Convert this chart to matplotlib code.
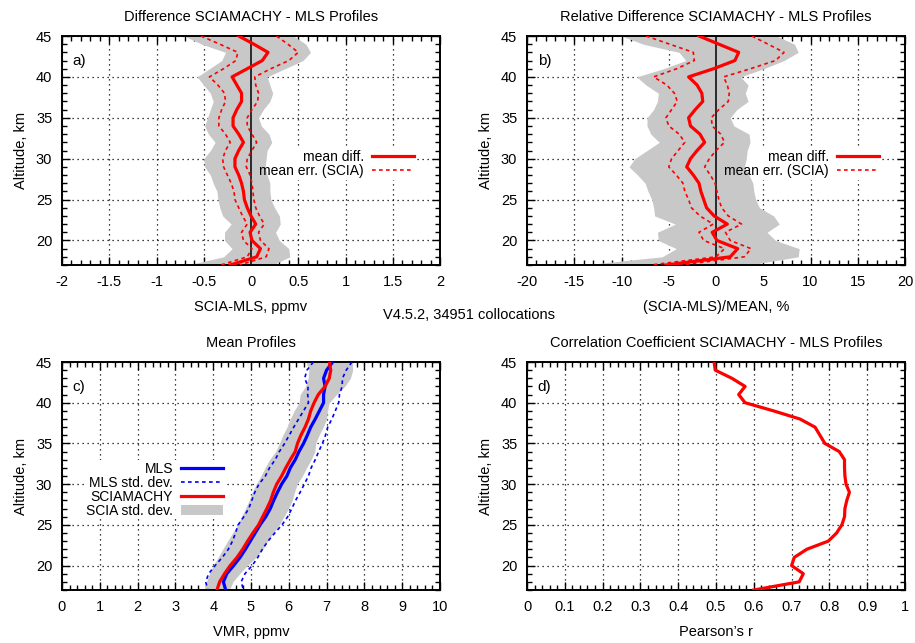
"""
SCIAMACHY vs MLS profile comparison: four-panel summary figure.

  a) absolute difference, b) relative difference,
  c) mean profiles, d) correlation coefficient
"""

import matplotlib

matplotlib.use("Agg")
import matplotlib.pyplot as plt
from matplotlib.patches import Rectangle
from matplotlib.ticker import FormatStrFormatter, MultipleLocator
import numpy as np

plt.rcParams["font.family"] = ["Liberation Sans", "DejaVu Sans"]
plt.rcParams["axes.unicode_minus"] = False

# Altitude grid, km (top to bottom)
ALTITUDE = [45, 44, 43, 42, 41, 40, 39, 38, 37, 36, 35, 34, 33, 32, 31,
            30, 29, 28, 27, 26, 25, 24, 23, 22, 21, 20, 19, 18, 17]

# a) SCIA - MLS, ppmv
DIFF_PPMV = [-0.13, 0.03, 0.18, 0.12, -0.04, -0.20, -0.15, -0.10, -0.10, -0.15,
             -0.19, -0.19, -0.13, -0.08, -0.13, -0.17, -0.17, -0.13, -0.10, -0.08,
             -0.07, -0.04, 0.00, 0.05, -0.01, 0.01, 0.10, 0.06, -0.22]
ERR_PPMV = [0.40, 0.36, 0.32, 0.28, 0.25, 0.24, 0.20, 0.18, 0.17, 0.16,
            0.15, 0.15, 0.14, 0.14, 0.14, 0.13, 0.12, 0.12, 0.11, 0.10,
            0.10, 0.09, 0.09, 0.09, 0.09, 0.09, 0.09, 0.10, 0.10]
STD_PPMV = [0.58, 0.55, 0.45, 0.43, 0.40, 0.37, 0.35, 0.33, 0.30, 0.28,
            0.27, 0.30, 0.32, 0.30, 0.30, 0.33, 0.32, 0.30, 0.30, 0.28,
            0.28, 0.29, 0.30, 0.26, 0.27, 0.29, 0.30, 0.35, 0.45]

# b) (SCIA - MLS) / MEAN, %
DIFF_PCT = [-1.8, 0.3, 2.4, 2.0, -0.25, -2.9, -2.0, -1.5, -1.4, -2.2,
            -2.9, -2.7, -1.7, -1.2, -2.0, -2.7, -3.1, -2.4, -1.8, -1.6,
            -1.3, -1.0, -0.2, 1.2, -0.4, 0.1, 2.3, 1.5, -5.3]
ERR_PCT = [5.6, 5.2, 4.8, 4.3, 3.9, 3.7, 3.2, 2.9, 2.7, 2.5,
           2.4, 2.3, 2.2, 2.1, 2.0, 2.0, 1.9, 1.8, 1.7, 1.7,
           1.6, 1.6, 1.5, 1.5, 1.4, 1.4, 1.4, 1.5, 1.6]
STD_PCT = [8.2, 8.0, 6.3, 5.2, 5.3, 5.5, 5.4, 4.6, 4.8, 4.4,
           4.4, 4.6, 5.2, 4.8, 5.3, 5.9, 6.1, 5.9, 5.7, 5.6,
           5.5, 5.6, 6.3, 5.5, 5.8, 6.2, 6.5, 7.2, 8.8]

# c) mean profiles, ppmv
VMR_MLS = [7.16, 7.00, 6.92, 6.96, 6.92, 6.92, 6.81, 6.70, 6.58, 6.49,
           6.39, 6.27, 6.17, 6.04, 5.95, 5.81, 5.70, 5.60, 5.51, 5.39,
           5.24, 5.11, 4.98, 4.85, 4.71, 4.54, 4.36, 4.27, 4.33]
STD_MLS = [0.51, 0.52, 0.50, 0.45, 0.42, 0.40, 0.42, 0.44, 0.45, 0.48,
           0.50, 0.52, 0.53, 0.55, 0.57, 0.60, 0.60, 0.58, 0.57, 0.58,
           0.58, 0.52, 0.47, 0.45, 0.47, 0.49, 0.48, 0.47, 0.47]
VMR_SCIA = [7.07, 7.11, 7.07, 6.96, 6.78, 6.67, 6.58, 6.52, 6.43, 6.32,
            6.23, 6.17, 6.04, 5.92, 5.81, 5.68, 5.59, 5.52, 5.42, 5.31,
            5.20, 5.05, 4.91, 4.78, 4.63, 4.45, 4.30, 4.17, 4.10]
STD_SCIA = [0.61, 0.58, 0.56, 0.52, 0.48, 0.40, 0.44, 0.48, 0.48, 0.48,
            0.48, 0.52, 0.55, 0.55, 0.55, 0.54, 0.56, 0.57, 0.57, 0.56,
            0.55, 0.54, 0.53, 0.53, 0.50, 0.45, 0.40, 0.35, 0.33]

# d) Pearson correlation
CORR = [0.495, 0.498, 0.542, 0.577, 0.560, 0.577, 0.652, 0.722, 0.762, 0.775,
        0.788, 0.826, 0.840, 0.840, 0.841, 0.844, 0.853, 0.846, 0.841, 0.840,
        0.833, 0.819, 0.797, 0.740, 0.707, 0.700, 0.731, 0.720, 0.600]

RED = "#ff0000"
BLUE = "#0000ff"
GREY = "#c8c8c8"
DASH = (0, (2.2, 2.0))
FIG_W, FIG_H = 915, 643


def axes_rect(left, top, right, bottom):
    return [left / FIG_W, 1 - bottom / FIG_H, (right - left) / FIG_W, (bottom - top) / FIG_H]


def style_axes(ax, xlim, xmajor, xminor, fmt, title, xlabel, tag):
    ax.set_xlim(*xlim)
    ax.set_ylim(17, 45)
    ax.xaxis.set_major_locator(MultipleLocator(xmajor))
    ax.xaxis.set_minor_locator(MultipleLocator(xminor))
    ax.xaxis.set_major_formatter(FormatStrFormatter(fmt))
    ax.yaxis.set_major_locator(MultipleLocator(5))
    ax.yaxis.set_minor_locator(MultipleLocator(1))
    ax.tick_params(which="both", direction="in", top=True, right=True,
                   width=1.0, colors="black", labelsize=10.5)
    ax.tick_params(which="major", length=6, pad=7)
    ax.tick_params(which="minor", length=3.5)
    for sp in ax.spines.values():
        sp.set_linewidth(1.4)
    ax.grid(True, which="major", color="black", linestyle=(0, (1, 3)), linewidth=0.9)
    ax.set_axisbelow(True)
    ax.set_title(title, fontsize=10.5, pad=11)
    ax.set_xlabel(xlabel, fontsize=10.5, labelpad=8)
    ax.set_ylabel("Altitude, km", fontsize=10.5, labelpad=6)
    ax.text(0.028, 0.89, tag, transform=ax.transAxes, fontsize=11, va="center")


def add_key(ax, anchor, handles=None, labels=None):
    """Frameless key; a white box behind it (added later) hides only the grid."""
    if handles is None:
        handles, labels = ax.get_legend_handles_labels()
    leg = ax.legend(handles, labels, loc="center right", bbox_to_anchor=anchor,
                    markerfirst=False, frameon=False, fontsize=10, handlelength=3.0,
                    handletextpad=0.6, labelspacing=0.0, borderpad=0.1, borderaxespad=0)
    leg.set_zorder(6)
    return leg


def blank_grid_behind(fig, ax, leg):
    bbox = leg.get_window_extent(fig.canvas.get_renderer())
    bbox = bbox.transformed(ax.transAxes.inverted())
    ax.add_patch(Rectangle((bbox.x0, bbox.y0), bbox.width, bbox.height,
                           transform=ax.transAxes, facecolor="white",
                           edgecolor="none", zorder=0.7))


def plot_difference(ax, diff, err, std, xlim, xmajor, xminor, fmt, title, xlabel, tag):
    alt = np.array(ALTITUDE)
    diff, err, std = np.array(diff), np.array(err), np.array(std)
    ax.fill_betweenx(alt, diff - std, diff + std, color=GREY, linewidth=0, zorder=1)
    ax.axvline(0, color="black", linewidth=1.1, zorder=3)
    ax.plot(diff, alt, color=RED, linewidth=2.3, label="mean diff.", zorder=4)
    ax.plot(diff - err, alt, color=RED, linewidth=1.2, linestyle=DASH,
            label="mean err. (SCIA)", zorder=4)
    ax.plot(diff + err, alt, color=RED, linewidth=1.2, linestyle=DASH, zorder=4)
    style_axes(ax, xlim, xmajor, xminor, fmt, title, xlabel, tag)
    return add_key(ax, (0.935, 0.44))


def plot_profiles(ax):
    alt = np.array(ALTITUDE)
    mls, smls = np.array(VMR_MLS), np.array(STD_MLS)
    scia, sscia = np.array(VMR_SCIA), np.array(STD_SCIA)
    ax.fill_betweenx(alt, scia - sscia, scia + sscia, color=GREY, linewidth=0,
                     zorder=1, label="SCIA std. dev.")
    ax.plot(mls, alt, color=BLUE, linewidth=2.3, label="MLS", zorder=4)
    ax.plot(mls - smls, alt, color=BLUE, linewidth=1.2, linestyle=DASH,
            label="MLS std. dev.", zorder=4)
    ax.plot(mls + smls, alt, color=BLUE, linewidth=1.2, linestyle=DASH, zorder=4)
    ax.plot(scia, alt, color=RED, linewidth=2.3, label="SCIAMACHY", zorder=5)
    style_axes(ax, (0, 10), 1, 0.2, "%g", "Mean Profiles", "VMR, ppmv", "c)")
    handles, labels = ax.get_legend_handles_labels()
    order = [labels.index(n) for n in ("MLS", "MLS std. dev.", "SCIAMACHY", "SCIA std. dev.")]
    return add_key(ax, (0.43, 0.44), [handles[i] for i in order], [labels[i] for i in order])


def plot_correlation(ax):
    ax.plot(CORR, ALTITUDE, color=RED, linewidth=2.3, zorder=4)
    style_axes(ax, (0, 1), 0.1, 0.02, "%g",
               "Correlation Coefficient SCIAMACHY - MLS Profiles", "Pearson\u2019s r", "d)")


def main() -> None:
    fig = plt.figure(figsize=(FIG_W / 100, FIG_H / 100), dpi=100)
    ax_a = fig.add_axes(axes_rect(62, 36, 440, 265))
    ax_b = fig.add_axes(axes_rect(527, 36, 905, 265))
    ax_c = fig.add_axes(axes_rect(62, 362, 440, 590))
    ax_d = fig.add_axes(axes_rect(527, 362, 905, 590))

    leg_a = plot_difference(ax_a, DIFF_PPMV, ERR_PPMV, STD_PPMV, (-2, 2), 0.5, 0.1, "%g",
                            "Difference SCIAMACHY - MLS Profiles", "SCIA-MLS, ppmv", "a)")
    leg_b = plot_difference(ax_b, DIFF_PCT, ERR_PCT, STD_PCT, (-20, 20), 5, 1, "%g",
                            "Relative Difference SCIAMACHY - MLS Profiles",
                            "(SCIA-MLS)/MEAN, %", "b)")
    leg_c = plot_profiles(ax_c)
    plot_correlation(ax_d)

    fig.text(469 / FIG_W, 1 - 315 / FIG_H, "V4.5.2, 34951 collocations",
             ha="center", va="center", fontsize=10.5)

    fig.canvas.draw()
    for ax, leg in ((ax_a, leg_a), (ax_b, leg_b), (ax_c, leg_c)):
        blank_grid_behind(fig, ax, leg)

    fig.savefig("out.png", dpi=100, facecolor="white")
    plt.close(fig)


if __name__ == "__main__":
    main()
